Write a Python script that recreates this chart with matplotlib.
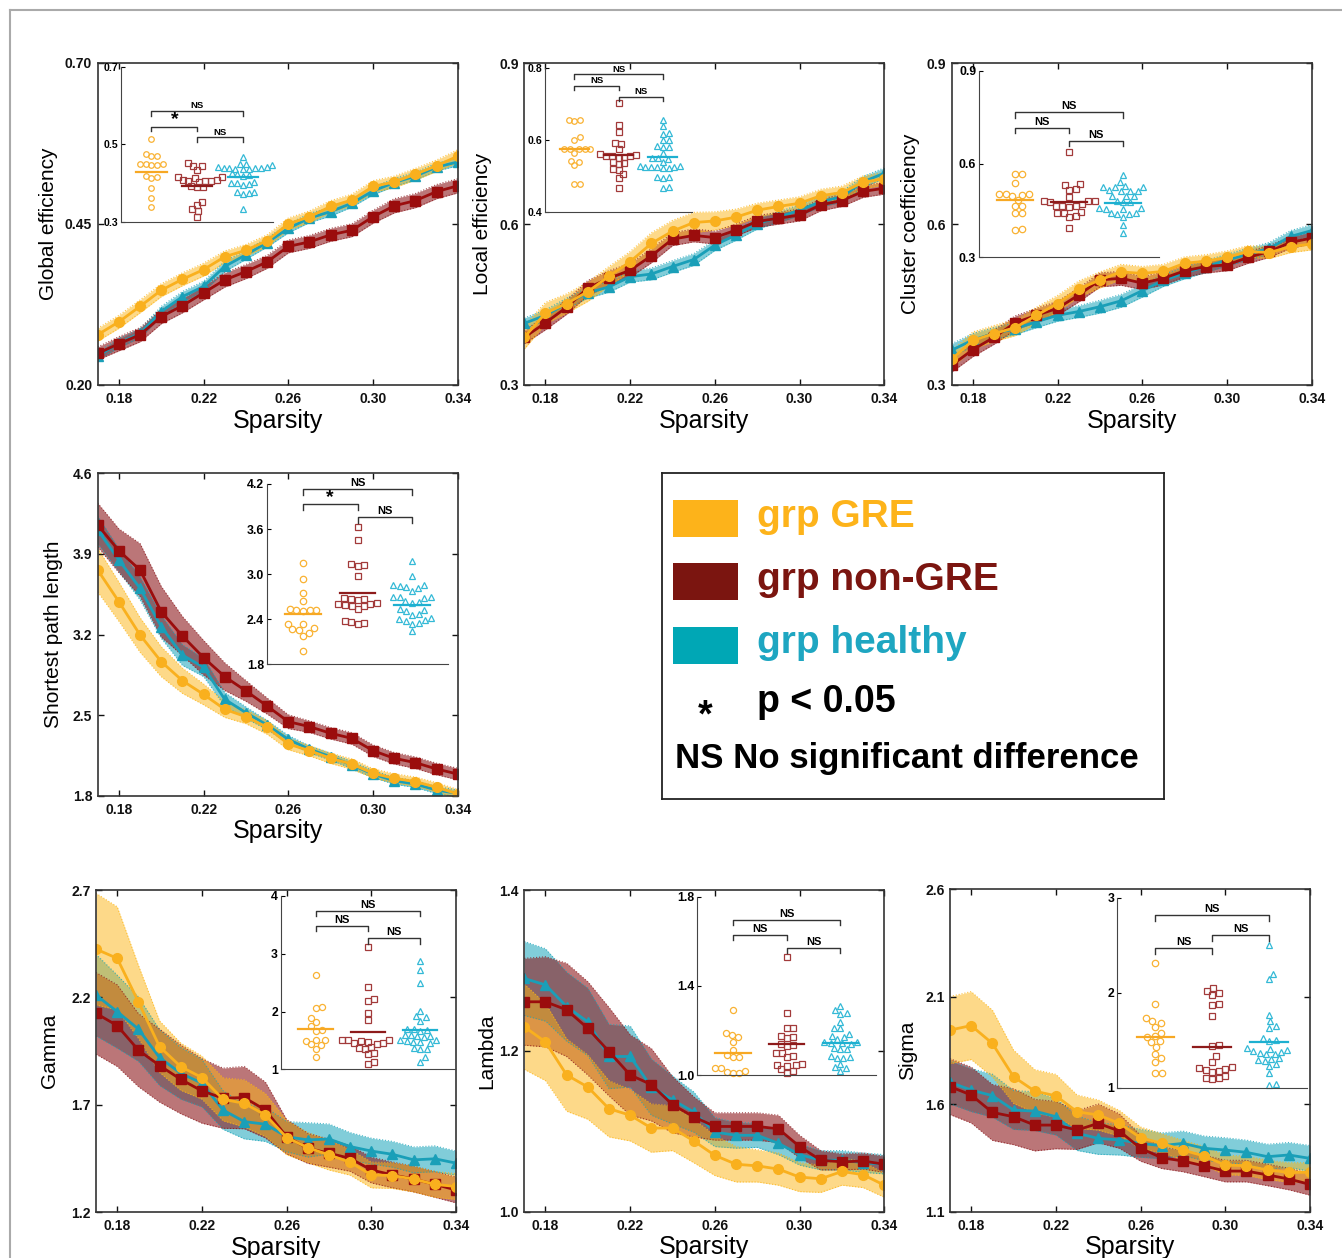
import numpy as np
import matplotlib
matplotlib.use('Agg')
import matplotlib.pyplot as plt
from matplotlib.lines import Line2D
from matplotlib.patches import Rectangle

plt.rcParams['font.family'] = ['Liberation Sans', 'DejaVu Sans']

W, H = 1342, 1258

sparsity = [0.17, 0.18, 0.19, 0.20, 0.21, 0.22, 0.23, 0.24, 0.25,
            0.26, 0.27, 0.28, 0.29, 0.30, 0.31, 0.32, 0.33, 0.34]
xticks = [0.18, 0.22, 0.26, 0.30, 0.34]
group_names = ['grp GRE', 'grp non-GRE', 'grp healthy']

# ---- global efficiency
ge_gre = [0.278, 0.298, 0.322, 0.347, 0.364, 0.379, 0.399, 0.409, 0.424, 0.450, 0.461, 0.477, 0.487, 0.508, 0.515, 0.527, 0.540, 0.555]
ge_gre_err = [0.010, 0.010, 0.010, 0.010, 0.010, 0.010, 0.009, 0.009, 0.009, 0.009, 0.009, 0.009, 0.009, 0.009, 0.009, 0.009, 0.009, 0.010]
ge_non = [0.249, 0.264, 0.278, 0.306, 0.323, 0.343, 0.363, 0.376, 0.391, 0.415, 0.422, 0.433, 0.440, 0.461, 0.478, 0.486, 0.500, 0.509]
ge_non_err = [0.010, 0.011, 0.011, 0.011, 0.011, 0.011, 0.011, 0.011, 0.010, 0.010, 0.010, 0.010, 0.010, 0.010, 0.011, 0.011, 0.011, 0.011]
ge_hc = [0.245, 0.265, 0.280, 0.314, 0.337, 0.353, 0.384, 0.402, 0.421, 0.443, 0.459, 0.469, 0.482, 0.501, 0.514, 0.524, 0.538, 0.546]
ge_hc_err = [0.006, 0.007, 0.007, 0.008, 0.008, 0.008, 0.008, 0.007, 0.007, 0.007, 0.007, 0.007, 0.006, 0.006, 0.006, 0.006, 0.006, 0.006]
ge_in_gre = [0.515, 0.475, 0.470, 0.470, 0.449, 0.448, 0.448, 0.447, 0.446, 0.418, 0.416, 0.414, 0.388, 0.362, 0.339]
ge_in_non = [0.453, 0.445, 0.443, 0.434, 0.416, 0.415, 0.414, 0.408, 0.407, 0.406, 0.405, 0.404, 0.403, 0.392, 0.390, 0.389, 0.352, 0.343, 0.332, 0.328, 0.313]
ge_in_hc = [0.466, 0.449, 0.448, 0.447, 0.442, 0.441, 0.440, 0.440, 0.439, 0.438, 0.437, 0.436, 0.435, 0.425, 0.423, 0.421, 0.418, 0.403, 0.401, 0.400, 0.398, 0.396, 0.378, 0.376, 0.374, 0.372, 0.334]
ge_in_means = [0.429, 0.392, 0.416]

# ---- local efficiency
le_gre = [0.389, 0.434, 0.452, 0.474, 0.503, 0.530, 0.564, 0.587, 0.603, 0.606, 0.613, 0.626, 0.633, 0.639, 0.653, 0.659, 0.678, 0.685]
le_gre_err = [0.022, 0.020, 0.018, 0.018, 0.018, 0.019, 0.020, 0.020, 0.019, 0.017, 0.015, 0.013, 0.012, 0.012, 0.012, 0.012, 0.012, 0.012]
le_non = [0.389, 0.416, 0.445, 0.481, 0.499, 0.514, 0.541, 0.572, 0.579, 0.575, 0.589, 0.605, 0.611, 0.617, 0.636, 0.644, 0.661, 0.667]
le_non_err = [0.012, 0.013, 0.013, 0.014, 0.014, 0.013, 0.013, 0.012, 0.012, 0.012, 0.011, 0.011, 0.011, 0.011, 0.011, 0.011, 0.011, 0.011]
le_hc = [0.415, 0.430, 0.452, 0.472, 0.483, 0.502, 0.507, 0.521, 0.534, 0.561, 0.580, 0.601, 0.613, 0.626, 0.642, 0.651, 0.679, 0.695]
le_hc_err = [0.010, 0.010, 0.010, 0.010, 0.010, 0.010, 0.011, 0.011, 0.011, 0.010, 0.010, 0.010, 0.010, 0.010, 0.010, 0.010, 0.010, 0.010]
le_in_gre = [0.657, 0.655, 0.652, 0.607, 0.600, 0.576, 0.575, 0.575, 0.574, 0.574, 0.563, 0.542, 0.540, 0.530, 0.476, 0.476]
le_in_non = [0.702, 0.642, 0.623, 0.592, 0.590, 0.575, 0.560, 0.558, 0.556, 0.555, 0.554, 0.553, 0.551, 0.538, 0.536, 0.534, 0.520, 0.516, 0.505, 0.495, 0.465]
le_in_hc = [0.656, 0.639, 0.620, 0.618, 0.601, 0.599, 0.582, 0.581, 0.580, 0.563, 0.550, 0.549, 0.548, 0.540, 0.528, 0.527, 0.526, 0.526, 0.525, 0.524, 0.523, 0.522, 0.497, 0.496, 0.495, 0.469, 0.467]
le_in_means = [0.574, 0.557, 0.553]

# ---- cluster coefficiency
cc_gre = [0.348, 0.383, 0.396, 0.407, 0.430, 0.452, 0.479, 0.496, 0.511, 0.508, 0.512, 0.527, 0.531, 0.538, 0.549, 0.547, 0.558, 0.563]
cc_gre_err = [0.016, 0.016, 0.015, 0.015, 0.015, 0.015, 0.015, 0.015, 0.014, 0.013, 0.013, 0.012, 0.012, 0.012, 0.011, 0.011, 0.011, 0.011]
cc_non = [0.337, 0.366, 0.389, 0.416, 0.430, 0.443, 0.468, 0.496, 0.499, 0.490, 0.499, 0.513, 0.521, 0.524, 0.538, 0.549, 0.566, 0.574]
cc_non_err = [0.013, 0.013, 0.013, 0.013, 0.013, 0.013, 0.013, 0.013, 0.013, 0.012, 0.012, 0.012, 0.012, 0.011, 0.011, 0.011, 0.011, 0.011]
cc_hc = [0.365, 0.384, 0.396, 0.405, 0.418, 0.430, 0.437, 0.446, 0.457, 0.476, 0.495, 0.509, 0.521, 0.533, 0.544, 0.555, 0.577, 0.588]
cc_hc_err = [0.012, 0.012, 0.011, 0.011, 0.011, 0.011, 0.011, 0.012, 0.012, 0.012, 0.011, 0.011, 0.011, 0.011, 0.011, 0.011, 0.011, 0.011]
cc_in_gre = [0.568, 0.567, 0.538, 0.505, 0.503, 0.502, 0.500, 0.498, 0.484, 0.466, 0.464, 0.444, 0.442, 0.392, 0.388]
cc_in_non = [0.640, 0.536, 0.534, 0.520, 0.518, 0.495, 0.482, 0.481, 0.480, 0.478, 0.470, 0.466, 0.465, 0.464, 0.463, 0.445, 0.444, 0.443, 0.432, 0.430, 0.393]
cc_in_hc = [0.565, 0.543, 0.528, 0.527, 0.526, 0.525, 0.515, 0.514, 0.513, 0.512, 0.498, 0.497, 0.496, 0.480, 0.479, 0.478, 0.458, 0.457, 0.456, 0.455, 0.442, 0.441, 0.440, 0.439, 0.430, 0.404, 0.379]
cc_in_means = [0.484, 0.479, 0.473]

# ---- shortest path length
spl_gre = [3.760, 3.485, 3.196, 2.964, 2.799, 2.680, 2.550, 2.486, 2.394, 2.249, 2.191, 2.125, 2.075, 1.994, 1.951, 1.922, 1.873, 1.815]
spl_gre_err = [0.19, 0.17, 0.15, 0.13, 0.11, 0.09, 0.07, 0.06, 0.06, 0.05, 0.045, 0.045, 0.045, 0.04, 0.04, 0.04, 0.04, 0.04]
spl_non = [4.151, 3.928, 3.760, 3.398, 3.187, 2.999, 2.834, 2.710, 2.579, 2.443, 2.400, 2.342, 2.298, 2.191, 2.125, 2.087, 2.032, 1.988]
spl_non_err = [0.19, 0.19, 0.23, 0.22, 0.17, 0.15, 0.12, 0.09, 0.07, 0.06, 0.05, 0.05, 0.05, 0.05, 0.05, 0.05, 0.05, 0.05]
spl_hc = [4.108, 3.847, 3.601, 3.268, 3.022, 2.915, 2.637, 2.521, 2.414, 2.289, 2.203, 2.139, 2.067, 1.988, 1.930, 1.901, 1.849, 1.820]
spl_hc_err = [0.12, 0.10, 0.10, 0.10, 0.09, 0.08, 0.06, 0.05, 0.04, 0.035, 0.03, 0.03, 0.03, 0.03, 0.03, 0.03, 0.03, 0.03]
spl_in_gre = [3.15, 2.94, 2.75, 2.64, 2.54, 2.52, 2.52, 2.52, 2.51, 2.34, 2.33, 2.28, 2.27, 2.25, 2.22, 2.18, 1.98]
spl_in_non = [3.63, 3.45, 3.13, 3.12, 3.11, 2.97, 2.68, 2.67, 2.67, 2.66, 2.61, 2.60, 2.60, 2.59, 2.58, 2.57, 2.54, 2.37, 2.36, 2.35, 2.33]
spl_in_hc = [3.18, 2.97, 2.84, 2.83, 2.86, 2.85, 2.82, 2.78, 2.70, 2.69, 2.69, 2.68, 2.64, 2.63, 2.62, 2.53, 2.52, 2.51, 2.47, 2.46, 2.41, 2.40, 2.39, 2.38, 2.35, 2.34, 2.24]
spl_in_means = [2.470, 2.745, 2.585]

# ---- gamma
gm_gre = [2.425, 2.382, 2.180, 1.971, 1.878, 1.827, 1.726, 1.707, 1.653, 1.548, 1.501, 1.467, 1.433, 1.374, 1.371, 1.355, 1.330, 1.320]
gm_gre_err = [0.26, 0.24, 0.17, 0.12, 0.11, 0.10, 0.10, 0.11, 0.10, 0.08, 0.07, 0.07, 0.06, 0.06, 0.06, 0.06, 0.06, 0.06]
gm_non = [2.126, 2.069, 1.955, 1.883, 1.819, 1.765, 1.731, 1.734, 1.676, 1.552, 1.498, 1.475, 1.451, 1.397, 1.374, 1.355, 1.330, 1.304]
gm_non_err = [0.19, 0.19, 0.17, 0.17, 0.16, 0.15, 0.14, 0.145, 0.13, 0.08, 0.07, 0.065, 0.06, 0.06, 0.06, 0.06, 0.06, 0.06]
gm_hc = [2.211, 2.134, 2.053, 1.920, 1.847, 1.801, 1.676, 1.622, 1.610, 1.552, 1.537, 1.541, 1.506, 1.485, 1.470, 1.444, 1.449, 1.429]
gm_hc_err = [0.19, 0.17, 0.15, 0.13, 0.12, 0.11, 0.09, 0.08, 0.08, 0.07, 0.08, 0.07, 0.065, 0.06, 0.06, 0.06, 0.06, 0.056]
gm_in_gre = [2.63, 2.07, 2.06, 1.89, 1.82, 1.75, 1.68, 1.67, 1.50, 1.50, 1.49, 1.43, 1.42, 1.35, 1.21]
gm_in_non = [3.11, 2.42, 2.21, 2.18, 1.97, 1.85, 1.51, 1.50, 1.50, 1.49, 1.48, 1.46, 1.45, 1.44, 1.38, 1.37, 1.36, 1.28, 1.26, 1.12, 1.10]
gm_in_hc = [2.87, 2.72, 2.50, 2.01, 1.92, 1.90, 1.84, 1.70, 1.69, 1.68, 1.67, 1.60, 1.59, 1.58, 1.57, 1.56, 1.51, 1.50, 1.49, 1.48, 1.47, 1.45, 1.37, 1.36, 1.35, 1.21, 1.13]
gm_in_means = [1.698, 1.640, 1.686]

# ---- lambda
lb_gre = [1.230, 1.211, 1.170, 1.155, 1.128, 1.120, 1.104, 1.104, 1.088, 1.070, 1.059, 1.057, 1.053, 1.043, 1.041, 1.050, 1.046, 1.033]
lb_gre_err = [0.053, 0.048, 0.045, 0.040, 0.035, 0.032, 0.030, 0.028, 0.027, 0.025, 0.022, 0.020, 0.020, 0.018, 0.017, 0.017, 0.016, 0.015]
lb_non = [1.261, 1.261, 1.251, 1.228, 1.199, 1.170, 1.158, 1.133, 1.118, 1.106, 1.106, 1.106, 1.103, 1.081, 1.064, 1.062, 1.063, 1.059]
lb_non_err = [0.054, 0.056, 0.058, 0.058, 0.055, 0.050, 0.045, 0.035, 0.025, 0.017, 0.017, 0.017, 0.017, 0.014, 0.012, 0.010, 0.010, 0.010]
lb_hc = [1.290, 1.282, 1.255, 1.236, 1.193, 1.193, 1.155, 1.139, 1.124, 1.099, 1.095, 1.095, 1.085, 1.071, 1.064, 1.064, 1.061, 1.059]
lb_hc_err = [0.046, 0.045, 0.043, 0.042, 0.040, 0.038, 0.035, 0.030, 0.025, 0.018, 0.016, 0.015, 0.014, 0.013, 0.012, 0.012, 0.012, 0.012]
lb_in_gre = [1.29, 1.19, 1.18, 1.17, 1.15, 1.11, 1.09, 1.08, 1.08, 1.03, 1.03, 1.02, 1.015, 1.01, 1.01]
lb_in_non = [1.53, 1.28, 1.21, 1.21, 1.175, 1.17, 1.165, 1.14, 1.135, 1.13, 1.10, 1.10, 1.085, 1.08, 1.05, 1.045, 1.045, 1.04, 1.025, 1.02, 1.01]
lb_in_hc = [1.31, 1.29, 1.28, 1.275, 1.24, 1.21, 1.21, 1.185, 1.175, 1.17, 1.16, 1.15, 1.148, 1.145, 1.142, 1.14, 1.12, 1.118, 1.115, 1.085, 1.08, 1.078, 1.075, 1.05, 1.035, 1.03, 1.02]
lb_in_means = [1.097, 1.139, 1.145]

# ---- sigma
sg_gre = [1.945, 1.966, 1.883, 1.728, 1.661, 1.639, 1.565, 1.550, 1.511, 1.444, 1.418, 1.387, 1.359, 1.317, 1.314, 1.294, 1.283, 1.283]
sg_gre_err = [0.156, 0.158, 0.155, 0.124, 0.100, 0.100, 0.078, 0.070, 0.060, 0.050, 0.045, 0.045, 0.045, 0.045, 0.045, 0.045, 0.045, 0.045]
sg_non = [1.682, 1.643, 1.562, 1.542, 1.503, 1.503, 1.480, 1.511, 1.475, 1.395, 1.351, 1.336, 1.313, 1.289, 1.289, 1.271, 1.252, 1.227]
sg_non_err = [0.13, 0.13, 0.13, 0.13, 0.12, 0.11, 0.09, 0.09, 0.08, 0.06, 0.05, 0.05, 0.05, 0.05, 0.05, 0.05, 0.05, 0.05]
sg_hc = [1.702, 1.666, 1.640, 1.573, 1.568, 1.542, 1.465, 1.441, 1.434, 1.418, 1.407, 1.418, 1.395, 1.387, 1.376, 1.356, 1.364, 1.348]
sg_hc_err = [0.10, 0.10, 0.10, 0.09, 0.09, 0.085, 0.08, 0.074, 0.07, 0.065, 0.06, 0.057, 0.057, 0.057, 0.057, 0.058, 0.058, 0.06]
sg_in_gre = [2.31, 1.88, 1.73, 1.70, 1.68, 1.64, 1.58, 1.54, 1.53, 1.49, 1.48, 1.43, 1.36, 1.31, 1.27, 1.15, 1.15]
sg_in_non = [2.05, 2.02, 2.00, 1.98, 1.88, 1.87, 1.76, 1.45, 1.44, 1.33, 1.27, 1.22, 1.21, 1.20, 1.19, 1.18, 1.17, 1.12, 1.10, 1.10, 1.09]
sg_in_hc = [2.50, 2.20, 2.14, 1.77, 1.70, 1.65, 1.63, 1.52, 1.50, 1.49, 1.42, 1.41, 1.40, 1.39, 1.38, 1.37, 1.36, 1.35, 1.31, 1.30, 1.29, 1.28, 1.25, 1.23, 1.15, 1.04, 1.03]
sg_in_means = [1.530, 1.425, 1.477]

# colours
line_cols = ['#F9B01E', '#9B0D0D', '#1A9FB8']
band_cols = ['#FDB515', '#8E1B1F', '#1AA5BA']
band_alpha = [0.5, 0.6, 0.55]
dot_cols = ['#F9B233', '#A23A3A', '#33B9D6']
mean_cols = ['#F7A823', '#8E1B1B', '#1EB0D0']
legend_cols = ['#FDB31A', '#7B1510', '#00A7B5']
text_cols = ['#FDB31A', '#7B1510', '#1EA6C1']
markers = ['o', 's', '^']


def px_rect(l, t, r, b):
    return [l / W, 1 - b / H, (r - l) / W, (b - t) / H]


def swarm(vals, d, h_px, ylo, yhi):
    ypx = (np.asarray(vals) - ylo) / (yhi - ylo) * h_px
    offs = np.zeros(len(ypx))
    placed = []
    for i in np.argsort(ypx):
        y = ypx[i]
        cands = [0.0]
        for xo, yo in placed:
            dy = y - yo
            if abs(dy) < d:
                dx = np.sqrt(d * d - dy * dy)
                cands += [xo + dx, xo - dx]
        for c in sorted(cands, key=abs):
            if all((c - xo) ** 2 + (y - yo) ** 2 >= d * d - 1e-6 for xo, yo in placed):
                offs[i] = c
                placed.append((c, y))
                break
    return offs


fig = plt.figure(figsize=(W / 100, H / 100), dpi=100)

# thin frame around the whole figure
fig.add_artist(Line2D([10 / W, 1], [1 - 10 / H, 1 - 10 / H], color='#AAAAAA', lw=1.5))
fig.add_artist(Line2D([10 / W, 10 / W], [0, 1 - 10 / H], color='#AAAAAA', lw=1.5))

panels = [
    dict(box=(97.7, 62.7, 457.7, 385), ylim=(0.20, 0.70), yt=[0.20, 0.45, 0.70], fmt='%.2f',
         label='Global efficiency', lx=-0.11,
         series=[(ge_gre, ge_gre_err), (ge_non, ge_non_err), (ge_hc, ge_hc_err)],
         ibox=(121, 67, 273.3, 221.7), iylim=(0.3, 0.7), iyt=[0.3, 0.5, 0.7], ifmt='%.1f',
         dots=[ge_in_gre, ge_in_non, ge_in_hc], means=ge_in_means, ms=4.0, nsf=6.8,
         br=[(1, 3, 0.586, 'NS'), (1, 2, 0.546, '*'), (2, 3, 0.518, 'NS')]),
    dict(box=(524.3, 63.3, 884.3, 385), ylim=(0.3, 0.9), yt=[0.3, 0.6, 0.9], fmt='%.1f',
         label='Local efficiency', lx=-0.09,
         series=[(le_gre, le_gre_err), (le_non, le_non_err), (le_hc, le_hc_err)],
         ibox=(545, 68.3, 692.3, 211.7), iylim=(0.4, 0.8), iyt=[0.4, 0.6, 0.8], ifmt='%.1f',
         dots=[le_in_gre, le_in_non, le_in_hc], means=le_in_means, ms=4.0, nsf=6.8,
         br=[(1, 3, 0.783, 'NS'), (1, 2, 0.751, 'NS'), (2, 3, 0.721, 'NS')]),
    dict(box=(951.7, 63.3, 1311.7, 385), ylim=(0.3, 0.9), yt=[0.3, 0.6, 0.9], fmt='%.1f',
         label='Cluster coefficiency', lx=-0.088,
         series=[(cc_gre, cc_gre_err), (cc_non, cc_non_err), (cc_hc, cc_hc_err)],
         ibox=(979, 70.7, 1159.3, 257.3), iylim=(0.3, 0.9), iyt=[0.3, 0.6, 0.9], ifmt='%.1f',
         dots=[cc_in_gre, cc_in_non, cc_in_hc], means=cc_in_means, ms=4.6, nsf=8,
         br=[(1, 3, 0.766, 'NS'), (1, 2, 0.717, 'NS'), (2, 3, 0.675, 'NS')]),
    dict(box=(97.7, 473.3, 457.7, 795.7), ylim=(1.8, 4.6), yt=[1.8, 2.5, 3.2, 3.9, 4.6], fmt='%.1f',
         label='Shortest path length', lx=-0.096,
         series=[(spl_gre, spl_gre_err), (spl_non, spl_non_err), (spl_hc, spl_hc_err)],
         ibox=(266.7, 484, 448.3, 664.3), iylim=(1.8, 4.2), iyt=[1.8, 2.4, 3.0, 3.6, 4.2], ifmt='%.1f',
         dots=[spl_in_gre, spl_in_non, spl_in_hc], means=spl_in_means, ms=4.6, nsf=8,
         br=[(1, 3, 4.129, 'NS'), (1, 2, 3.93, '*'), (2, 3, 3.756, 'NS')]),
    dict(box=(96, 890, 456, 1212.3), ylim=(1.2, 2.7), yt=[1.2, 1.7, 2.2, 2.7], fmt='%.1f',
         label='Gamma', lx=-0.103,
         series=[(gm_gre, gm_gre_err), (gm_non, gm_non_err), (gm_hc, gm_hc_err)],
         ibox=(280.7, 896, 455, 1069.3), iylim=(1, 4), iyt=[1, 2, 3, 4], ifmt='%d',
         dots=[gm_in_gre, gm_in_non, gm_in_hc], means=gm_in_means, ms=4.4, nsf=8,
         br=[(1, 3, 3.74, 'NS'), (1, 2, 3.48, 'NS'), (2, 3, 3.267, 'NS')]),
    dict(box=(524.3, 890, 884.3, 1211.7), ylim=(1.0, 1.4), yt=[1.0, 1.2, 1.4], fmt='%.1f',
         label='Lambda', lx=-0.079,
         series=[(lb_gre, lb_gre_err), (lb_non, lb_non_err), (lb_hc, lb_hc_err)],
         ibox=(697.3, 896.7, 876, 1075), iylim=(1.0, 1.8), iyt=[1.0, 1.4, 1.8], ifmt='%.1f',
         dots=[lb_in_gre, lb_in_non, lb_in_hc], means=lb_in_means, ms=4.4, nsf=8,
         br=[(1, 3, 1.695, 'NS'), (1, 2, 1.628, 'NS'), (2, 3, 1.571, 'NS')]),
    dict(box=(950, 889.3, 1310, 1211.7), ylim=(1.1, 2.6), yt=[1.1, 1.6, 2.1, 2.6], fmt='%.1f',
         label='Sigma', lx=-0.092,
         series=[(sg_gre, sg_gre_err), (sg_non, sg_non_err), (sg_hc, sg_hc_err)],
         ibox=(1117.3, 897.7, 1307.3, 1087.7), iylim=(1, 3), iyt=[1, 2, 3], ifmt='%d',
         dots=[sg_in_gre, sg_in_non, sg_in_hc], means=sg_in_means, ms=4.6, nsf=8,
         br=[(1, 3, 2.818, 'NS'), (2, 3, 2.607, 'NS'), (1, 2, 2.467, 'NS')]),
]

x = np.array(sparsity)
for p in panels:
    ax = fig.add_axes(px_rect(*p['box']))
    # bands: healthy, non-GRE, GRE (GRE on top)
    for g in [2, 1, 0]:
        m, e = np.array(p['series'][g][0]), np.array(p['series'][g][1])
        ax.fill_between(x, m - e, m + e, color=band_cols[g], alpha=band_alpha[g], lw=0)
        ax.plot(x, m - e, ls=':', color=band_cols[g], lw=0.8, alpha=0.8)
        ax.plot(x, m + e, ls=':', color=band_cols[g], lw=0.8, alpha=0.8)
    for g in [2, 1, 0]:
        m = p['series'][g][0]
        ms = 7.5 if markers[g] == '^' else 7
        ax.plot(x, m, marker=markers[g], color=line_cols[g], lw=2.0, ms=ms,
                mec=line_cols[g], mfc=line_cols[g])
    ax.set_xlim(0.17, 0.34)
    ax.set_ylim(*p['ylim'])
    ax.set_xticks(xticks)
    ax.set_xticklabels(['%.2f' % t for t in xticks], fontweight='bold', fontsize=10)
    ax.set_yticks(p['yt'])
    ax.set_yticklabels([p['fmt'] % t for t in p['yt']], fontweight='bold', fontsize=10)
    ax.tick_params(direction='in', top=True, right=True, length=4, width=1, colors='#111111')
    ax.tick_params(axis='x', pad=5)
    ax.tick_params(axis='y', pad=4)
    for s in ax.spines.values():
        s.set_color('#333333')
        s.set_linewidth(1.2)
    ax.set_xlabel('Sparsity', fontsize=18, labelpad=2)
    ax.set_ylabel(p['label'], fontsize=15)
    ax.yaxis.set_label_coords(p['lx'], 0.5)

    # inset with group dots
    l, t, r, b = p['ibox']
    ia = fig.add_axes(px_rect(l, t, r, b))
    ia.set_facecolor('none')
    xlo, xhi = 0.333, 3.667
    ylo, yhi = p['iylim']
    d = p['ms'] * 100 / 72 * 1.05
    for g in range(3):
        vals = p['dots'][g]
        offs = swarm(vals, d, b - t, ylo, yhi) / (r - l) * (xhi - xlo)
        ia.plot(g + 1 + offs, vals, ls='none', marker=markers[g], ms=p['ms'],
                mfc='none', mec=dot_cols[g], mew=0.9, clip_on=False)
        ia.plot([g + 1 - 0.33, g + 1 + 0.33], [p['means'][g]] * 2, color=mean_cols[g], lw=1.6)
    leg = 0.03 * (yhi - ylo)
    for g1, g2, yb, lab in p['br']:
        ia.plot([g1, g1, g2, g2], [yb - leg, yb, yb, yb - leg], color='#333333', lw=1.0,
                clip_on=False)
        if lab == '*':
            ia.text((g1 + g2) / 2, yb - 0.01 * (yhi - ylo), '*', ha='center', va='bottom',
                    fontsize=14, fontweight='bold')
        else:
            ia.text((g1 + g2) / 2, yb + 0.005 * (yhi - ylo), lab, ha='center', va='bottom',
                    fontsize=p['nsf'], fontweight='bold')
    ia.set_xlim(xlo, xhi)
    ia.set_ylim(ylo, yhi)
    ia.set_xticks([])
    ia.set_yticks(p['iyt'])
    ia.set_yticklabels([p['ifmt'] % v for v in p['iyt']], fontweight='bold',
                       fontsize=p['nsf'] + 0.8)
    ia.tick_params(direction='in', length=3, width=0.8, pad=2)
    ia.spines['top'].set_visible(False)
    ia.spines['right'].set_visible(False)
    ia.spines['left'].set_color('#444444')
    ia.spines['bottom'].set_color('#444444')

# legend box
lg = fig.add_axes(px_rect(662, 473, 1164, 799))
lg.set_xlim(662, 1164)
lg.set_ylim(799, 473)
lg.set_xticks([])
lg.set_yticks([])
for s in lg.spines.values():
    s.set_color('#222222')
    s.set_linewidth(1.3)
rows_y = [518.5, 581.7, 645]
for g in range(3):
    lg.add_patch(Rectangle((673, rows_y[g] - 18.5), 65, 37, color=legend_cols[g], lw=0))
    lg.text(757, rows_y[g] - 2, group_names[g], color=text_cols[g], fontsize=28,
            fontweight='bold', va='center', ha='left')
lg.text(705, 716, '*', fontsize=27, fontweight='bold', va='center', ha='center')
lg.text(757, 702, 'p < 0.05', fontsize=27, fontweight='bold', va='center', ha='left')
lg.text(675, 758, 'NS No significant difference', fontsize=25, fontweight='bold',
        va='center', ha='left')

fig.savefig('out.png', dpi=100)
